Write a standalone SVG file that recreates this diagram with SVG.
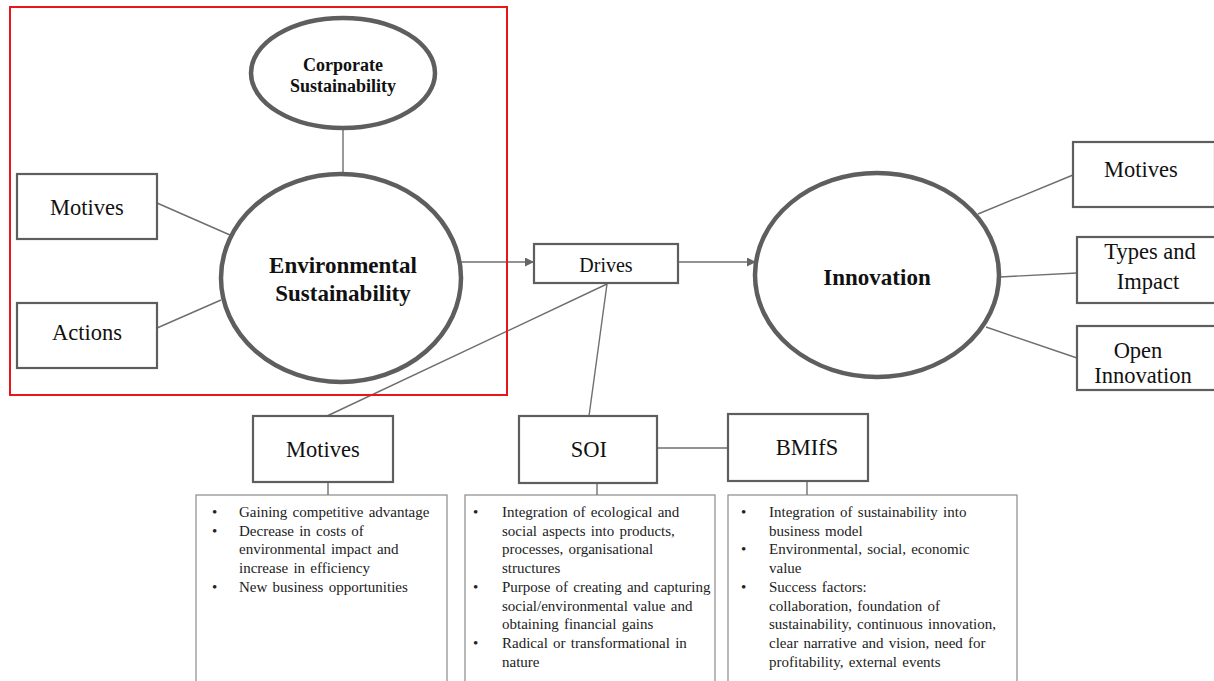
<svg xmlns="http://www.w3.org/2000/svg" width="1214" height="681" viewBox="0 0 1214 681">
<defs>
<marker id="arr" viewBox="0 0 10 10" refX="10" refY="5" markerWidth="9" markerHeight="9" markerUnits="userSpaceOnUse" orient="auto">
<path d="M0,0 L10,5 L0,10 z" fill="#666"/>
</marker>
<style>
.box{fill:#fff;stroke:#5e5e5e;stroke-width:2.2}
.ell{fill:#fff;stroke:#5e5e5e;stroke-width:4.5}
.list{fill:#fff;stroke:#8a8a8a;stroke-width:1.2}
.con{stroke:#6e6e6e;stroke-width:1.4;fill:none}
.lbl{font-family:"Liberation Serif","Times New Roman",serif;font-size:22.5px;fill:#111;text-anchor:middle}
.bold{font-family:"Liberation Serif","Times New Roman",serif;font-weight:bold;fill:#111;text-anchor:middle}
.li{font-family:"Liberation Serif","Times New Roman",serif;font-size:15px;word-spacing:1.5px;fill:#222}
</style>
</defs>
<rect width="1214" height="681" fill="#fff"/>
<g id="connectors">
<line class="con" x1="343" y1="128" x2="343" y2="175"/>
<line class="con" x1="157" y1="203" x2="230" y2="235"/>
<line class="con" x1="157" y1="328" x2="221" y2="300"/>
<line class="con" x1="461" y1="262" x2="534" y2="262" marker-end="url(#arr)"/>
<line class="con" x1="678" y1="262" x2="756" y2="262" marker-end="url(#arr)"/>
<line class="con" x1="978" y1="214" x2="1073" y2="175"/>
<line class="con" x1="1000" y1="277" x2="1077" y2="273"/>
<line class="con" x1="986" y1="327" x2="1077" y2="358"/>
<line class="con" x1="607" y1="284" x2="327" y2="416"/>
<line class="con" x1="607" y1="284" x2="589" y2="416"/>
<line class="con" x1="657" y1="448" x2="728" y2="448"/>
<line class="con" x1="328" y1="482" x2="328" y2="495"/>
<line class="con" x1="597" y1="483" x2="597" y2="495"/>
<line class="con" x1="807" y1="481" x2="807" y2="495"/>
</g>
<rect x="10" y="7" width="497" height="388" fill="none" stroke="#e8161b" stroke-width="2"/>
<g id="corporate">
<ellipse class="ell" cx="343" cy="73" rx="92" ry="55"/>
<text class="bold" x="343" y="71" font-size="18">Corporate</text>
<text class="bold" x="343" y="92" font-size="18">Sustainability</text>
</g>
<g id="envsust">
<ellipse class="ell" cx="341" cy="278" rx="120" ry="104"/>
<text class="bold" x="343" y="273" font-size="23">Environmental</text>
<text class="bold" x="343" y="301" font-size="23">Sustainability</text>
</g>
<g id="motives-left">
<rect class="box" x="17" y="174" width="140" height="65"/>
<text class="lbl" x="87" y="215">Motives</text>
</g>
<g id="actions">
<rect class="box" x="17" y="303" width="140" height="65"/>
<text class="lbl" x="87" y="340">Actions</text>
</g>
<g id="drives">
<rect class="box" x="534" y="244" width="144" height="39"/>
<text class="lbl" x="606" y="272" style="font-size:20px">Drives</text>
</g>
<g id="innovation">
<ellipse class="ell" cx="877" cy="275" rx="122" ry="102"/>
<text class="bold" x="877" y="285" font-size="23">Innovation</text>
</g>
<g id="motives-right">
<rect class="box" x="1073" y="142" width="142" height="65"/>
<text class="lbl" x="1141" y="177">Motives</text>
</g>
<g id="types">
<rect class="box" x="1077" y="237" width="140" height="66"/>
<text class="lbl" x="1150" y="259">Types and</text>
<text class="lbl" x="1148" y="289">Impact</text>
</g>
<g id="open">
<rect class="box" x="1077" y="326" width="140" height="64"/>
<text class="lbl" x="1138" y="358">Open</text>
<text class="lbl" x="1143" y="383">Innovation</text>
</g>
<g id="motives-bottom">
<rect class="box" x="253" y="416" width="140" height="66"/>
<text class="lbl" x="323" y="457">Motives</text>
</g>
<g id="soi">
<rect class="box" x="519" y="416" width="138" height="67"/>
<text class="lbl" x="589" y="457">SOI</text>
</g>
<g id="bmifs">
<rect class="box" x="728" y="414" width="140" height="67"/>
<text class="lbl" x="807" y="455">BMIfS</text>
</g>
<g id="motives-list">
<rect class="list" x="196" y="495" width="251" height="200"/>
<text class="li"><tspan x="212" y="517">•</tspan><tspan x="239" y="517">Gaining competitive advantage</tspan>
<tspan x="212" y="535.7">•</tspan><tspan x="239" y="535.7">Decrease in costs of</tspan>
<tspan x="239" y="554.4">environmental impact and</tspan>
<tspan x="239" y="573.1">increase in efficiency</tspan>
<tspan x="212" y="591.8">•</tspan><tspan x="239" y="591.8">New business opportunities</tspan></text>
</g>
<g id="soi-list">
<rect class="list" x="465" y="495" width="250" height="200"/>
<text class="li"><tspan x="473" y="517">•</tspan><tspan x="502" y="517">Integration of ecological and</tspan>
<tspan x="502" y="535.7">social aspects into products,</tspan>
<tspan x="502" y="554.4">processes, organisational</tspan>
<tspan x="502" y="573.1">structures</tspan>
<tspan x="473" y="591.8">•</tspan><tspan x="502" y="591.8">Purpose of creating and capturing</tspan>
<tspan x="502" y="610.5">social/environmental value and</tspan>
<tspan x="502" y="629.2">obtaining financial gains</tspan>
<tspan x="473" y="647.9">•</tspan><tspan x="502" y="647.9">Radical or transformational in</tspan>
<tspan x="502" y="666.6">nature</tspan></text>
</g>
<g id="bmifs-list">
<rect class="list" x="728" y="495" width="289" height="200"/>
<text class="li"><tspan x="741" y="517">•</tspan><tspan x="769" y="517">Integration of sustainability into</tspan>
<tspan x="769" y="535.7">business model</tspan>
<tspan x="741" y="554.4">•</tspan><tspan x="769" y="554.4">Environmental, social, economic</tspan>
<tspan x="769" y="573.1">value</tspan>
<tspan x="741" y="591.8">•</tspan><tspan x="769" y="591.8">Success factors:</tspan>
<tspan x="769" y="610.5">collaboration, foundation of</tspan>
<tspan x="769" y="629.2">sustainability, continuous innovation,</tspan>
<tspan x="769" y="647.9">clear narrative and vision, need for</tspan>
<tspan x="769" y="666.6">profitability, external events</tspan></text>
</g>
</svg>
